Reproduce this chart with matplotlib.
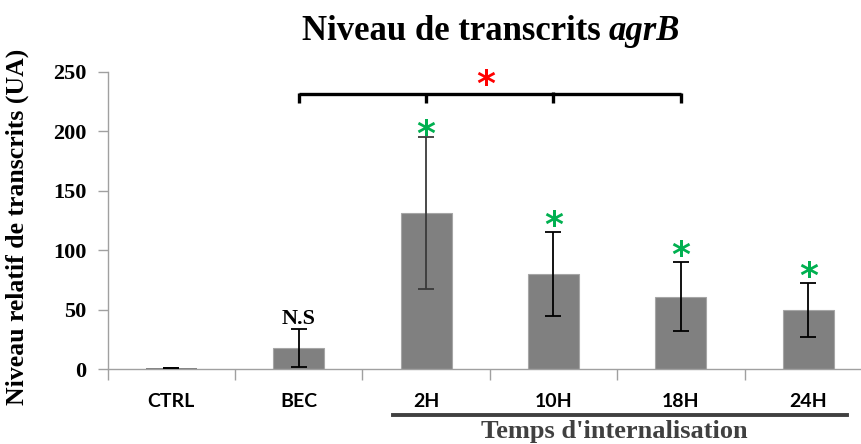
import matplotlib
matplotlib.use("Agg")
import matplotlib.pyplot as plt
import numpy as np

categories = ["CTRL", "BEC", "2H", "10H", "18H", "24H"]
values = [1, 18, 131, 80, 61, 49.5]
errors = [0, 16, 64, 35, 29, 22.5]
yticks = [0, 50, 100, 150, 200, 250]
green_star_idx = [2, 3, 4, 5]
green_star_offset_px = [6, 10, 10, 10]

W, H = 861, 444
fig = plt.figure(figsize=(W / 100, H / 100), dpi=100)
left, right, bottom, top = 107.5, 872, 444 - 369, 444 - 72
ax = fig.add_axes([left / W, bottom / H, (right - left) / W, (top - bottom) / H])

x = np.arange(len(categories))
edgecols = ["none"] + ["#A6A6A6"] * (len(categories) - 1)
ax.bar(x, values, width=0.4, color="#808080", edgecolor=edgecols, linewidth=0.8, zorder=2)
ecolors = ["black", "black", "#3a3a3a", "black", "black", "black"]
for xi, v, e, c in zip(x, values, errors, ecolors):
    ax.errorbar(xi, v, yerr=max(e, 0.001), fmt="none", ecolor=c, elinewidth=1.3, capsize=5.5,
                capthick=1.3, zorder=3)

ax.set_xlim(-0.5, len(categories) - 0.5)
ax.set_ylim(0, 250)
for s in ["top", "right"]:
    ax.spines[s].set_visible(False)
for s in ["left", "bottom"]:
    ax.spines[s].set_color("#A0A0A0")
    ax.spines[s].set_linewidth(1.0)
    ax.spines[s].set_zorder(2.5)

serif = "Liberation Serif"
ax.set_yticks(yticks)
ax.set_yticklabels([str(t) for t in yticks], fontfamily=serif, fontweight="bold", fontsize=16)
ax.tick_params(axis="y", direction="out", length=7, color="#A0A0A0", width=1.0, pad=8)

ax.set_xticks(np.arange(-0.5, len(categories) - 0.4, 1.0))
ax.set_xticklabels([])
ax.tick_params(axis="x", which="major", direction="out", length=8, color="#A0A0A0", width=1.0)
ax.set_xticks(x, minor=True)
ax.set_xticklabels(categories, minor=True, fontfamily="Lato", fontweight="bold", fontsize=14)
ax.tick_params(axis="x", which="minor", length=0, pad=17)

fig.text(17 / W, 1 - 227 / H, "Niveau relatif de transcrits (UA)", rotation=90, ha="center", va="center",
         fontfamily=serif, fontweight="bold", fontsize=18.5)

# title: regular bold part + bold italic gene name
fig.canvas.draw()
r = fig.canvas.get_renderer()
t1 = fig.text(0, 1 - 31 / H, "Niveau de transcrits ", ha="left", va="center",
              fontfamily=serif, fontweight="bold", fontsize=25)
t2 = fig.text(0, 1 - 31 / H, "agrB", ha="left", va="center",
              fontfamily=serif, fontweight="bold", fontstyle="italic", fontsize=25)
w1 = t1.get_window_extent(r).width
w2 = t2.get_window_extent(r).width
x0 = 491 - (w1 + w2) / 2
t1.set_x(x0 / W)
t2.set_x((x0 + w1) / W)

# N.S label above BEC
ax.annotate("N.S", xy=(1, values[1] + errors[1]), xytext=(0, 7), textcoords="offset points",
            ha="center", va="center", fontfamily=serif, fontweight="bold", fontsize=16)

# green asterisks
for i, off in zip(green_star_idx, green_star_offset_px):
    ax.annotate("*", xy=(i, values[i] + errors[i]), xytext=(0, off * 0.72), textcoords="offset points",
                ha="center", va="center_baseline", color="#00B050", fontsize=26, fontfamily="DejaVu Sans",
                fontweight="bold")

# bracket BEC -> 18H
yb, yt = 231.7, 224
bx = [1, 2, 3, 4]
ax.plot([bx[0], bx[-1]], [yb, yb], color="black", lw=2.4, solid_capstyle="butt", clip_on=False, zorder=4)
for b in bx:
    ax.plot([b, b], [yb + (1.5 if b == 3 else 0.8), yt], color="black", lw=2.4, solid_capstyle="butt",
            clip_on=False, zorder=4)
ax.text(2.47, 242, "*", ha="center", va="center_baseline", color="#FF0000", fontsize=26,
        fontfamily="DejaVu Sans", fontweight="bold")

# time group line and label
fig.add_artist(plt.Line2D([393 / W, 847 / W], [1 - 415 / H, 1 - 415 / H], color="#404040", lw=2.8))
fig.text(614 / W, 1 - 431 / H, "Temps d'internalisation", ha="center", va="center",
         fontfamily=serif, fontweight="bold", fontsize=19, color="#404040")

fig.savefig("out.png", dpi=100)
